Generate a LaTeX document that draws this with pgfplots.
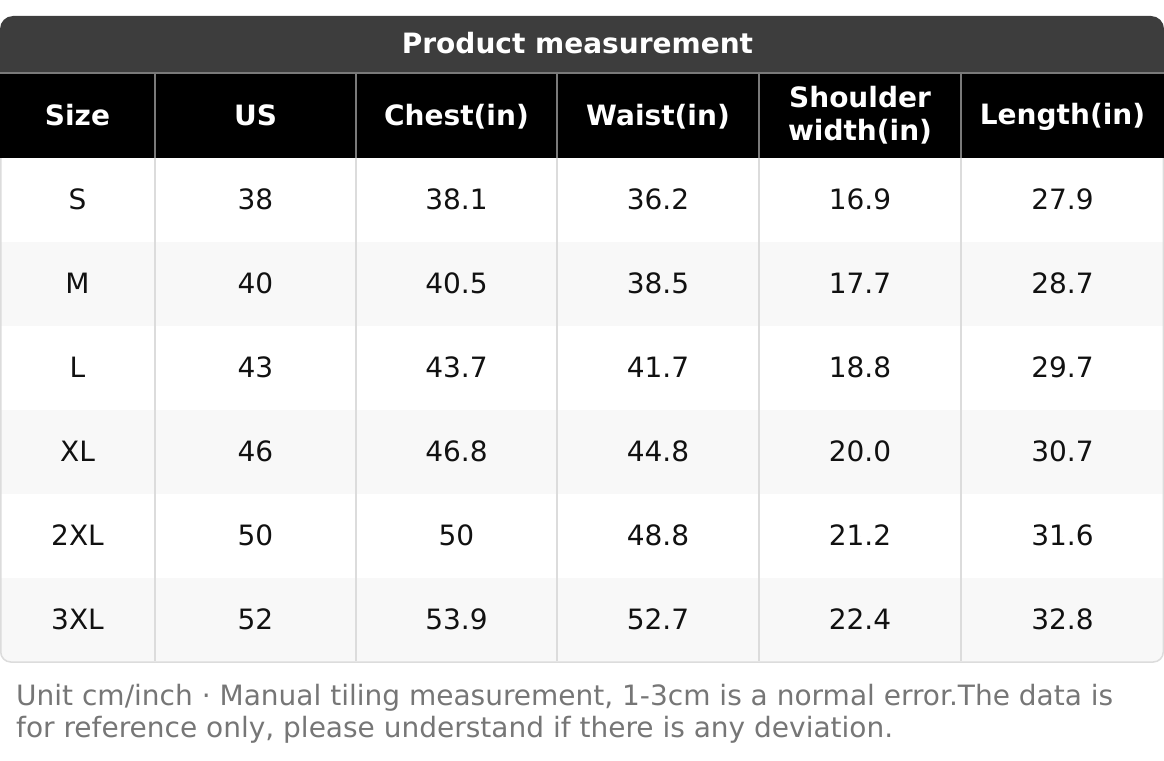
\documentclass[border=0pt]{standalone}
\usepackage{pgfplots}
\pgfplotsset{compat=1.18}
\usepackage{pgfplotstable}
\usepackage{fontspec}
\setmainfont{DejaVu Sans}
\definecolor{titlebg}{HTML}{3D3D3D}
\definecolor{hdrline}{HTML}{7A7A7A}
\definecolor{gridline}{HTML}{DCDCDC}
\definecolor{altrow}{HTML}{F8F8F8}
\definecolor{notegray}{HTML}{767676}
\definecolor{celltext}{HTML}{111111}

\pgfplotstableread[col sep=comma]{
x,y,label
77.5,115.5,Size
255.5,115.5,US
456.5,116.5,Chest(in)
658,116.5,Waist(in)
860,115.5,Shoulder width(in)
1062.5,116.5,Length(in)
}\headertab

\pgfplotstableread[col sep=comma]{
size,ypos,US,Chest,Waist,Shoulder,Length
S,200,38,38.1,36.2,16.9,27.9
M,284,40,40.5,38.5,17.7,28.7
L,368,43,43.7,41.7,18.8,29.7
XL,452,46,46.8,44.8,20.0,30.7
2XL,536,50,50,48.8,21.2,31.6
3XL,620,52,53.9,52.7,22.4,32.8
}\bodytab

\begin{document}
\begin{tikzpicture}
\begin{axis}[name=ax,
  width=1164pt, height=760pt, scale only axis,
  xmin=0, xmax=1164, ymin=0, ymax=760, y dir=reverse,
  hide axis, clip=false,
  point meta=explicit symbolic,
  only marks, mark=*, mark size=0pt, mark options={draw=none,fill=none},
  nodes near coords,
  nodes near coords align={center},
  every node near coord/.append style={anchor=center, inner sep=0pt},
  ]
  % row backgrounds
  \fill[altrow, rounded corners=10pt] (axis cs:0,560) rectangle (axis cs:1164,662);
  \fill[white] (axis cs:0,494) rectangle (axis cs:1164,578);
  \fill[altrow] (axis cs:0,242) rectangle (axis cs:1164,326);
  \fill[altrow] (axis cs:0,410) rectangle (axis cs:1164,494);
  % outer border
  \draw[gridline, line width=1.5pt, rounded corners=10pt] (axis cs:0.75,100) rectangle (axis cs:1163.25,662);
  % body vertical lines
  \pgfplotsinvokeforeach{155,356,557,759,961}{
    \draw[gridline, line width=1.5pt] (axis cs:#1,158) -- (axis cs:#1,661);
  }
  % title bar
  \fill[titlebg, rounded corners=13pt] (axis cs:0,16) rectangle (axis cs:1164,100);
  % header
  \fill[black] (axis cs:0,73) rectangle (axis cs:1164,158);
  \draw[hdrline, line width=2pt] (axis cs:0,73) -- (axis cs:1164,73);
  \pgfplotsinvokeforeach{155,356,557,759,961}{
    \draw[hdrline, line width=2pt] (axis cs:#1,73) -- (axis cs:#1,158);
  }
  \node[text=white, font=\fontsize{28}{32}\selectfont\bfseries] at (axis cs:577.5,43) {Product measurement};

  % header labels
  \addplot[every node near coord/.append style={text=white, text width=190pt, align=center, font=\fontsize{28}{33}\selectfont\bfseries}]
    table[x=x, y=y, meta=label] {\headertab};

  % body cells
  \pgfplotsset{cellstyle/.style={every node near coord/.append style={text=celltext, yshift=1pt, font=\fontsize{28}{32}\selectfont}}}
  \addplot[cellstyle] table[x expr=77.5, y=ypos, meta=size] {\bodytab};
  \addplot[cellstyle] table[x expr=255.5, y=ypos, meta=US] {\bodytab};
  \addplot[cellstyle] table[x expr=456.5, y=ypos, meta=Chest] {\bodytab};
  \addplot[cellstyle] table[x expr=658, y=ypos, meta=Waist] {\bodytab};
  \addplot[cellstyle] table[x expr=860, y=ypos, meta=Shoulder] {\bodytab};
  \addplot[cellstyle] table[x expr=1062.5, y=ypos, meta=Length] {\bodytab};

  % footnote
  \node[anchor=base west, inner sep=0pt, text=notegray, font=\fontsize{28}{32}\selectfont] at (axis cs:16,705) {Unit cm/inch · Manual tiling measurement, 1-3cm is a normal error.The data is};
  \node[anchor=base west, inner sep=0pt, text=notegray, font=\fontsize{28}{32}\selectfont] at (axis cs:16,737) {for reference only, please understand if there is any deviation.};
\end{axis}
\pgfresetboundingbox
\path (ax.south west) rectangle (ax.north east);
\end{tikzpicture}
\end{document}
